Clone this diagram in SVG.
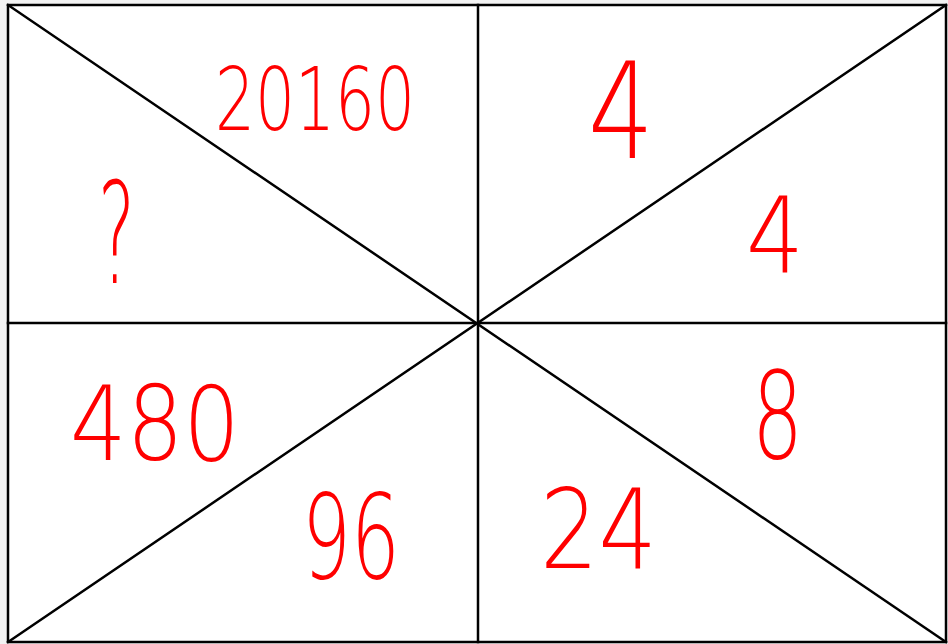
<svg xmlns="http://www.w3.org/2000/svg" width="948" height="644" viewBox="0 0 948 644">
<style>
.ln{stroke:#000;stroke-width:2.5;fill:none;stroke-linecap:square}
.num{font-family:"DejaVu Sans","Liberation Sans",Arial,sans-serif;fill:#ff0000;font-weight:200}
</style>
<rect x="0" y="0" width="948" height="644" fill="#f2f2f2"/>
<rect x="8" y="5" width="938" height="637" fill="#ffffff"/>
<g id="connectors">
<rect class="ln" x="8" y="5" width="938" height="637"/>
<line class="ln" x1="478" y1="5" x2="478" y2="642"/>
<line class="ln" x1="8" y1="323" x2="946" y2="323"/>
<line class="ln" x1="8" y1="5" x2="946" y2="642"/>
<line class="ln" x1="946" y1="5" x2="8" y2="642"/>
</g>
<g id="n20160"><text class="num" x="215" y="130" font-size="88" textLength="200" lengthAdjust="spacingAndGlyphs">20160</text></g>
<g id="nq"><text class="num" x="98" y="283" font-size="140" textLength="37" lengthAdjust="spacingAndGlyphs">?</text></g>
<g id="n4a"><text class="num" x="588" y="158" font-size="134" textLength="66" lengthAdjust="spacingAndGlyphs">4</text></g>
<g id="n4b"><text class="num" x="746" y="272" font-size="106" textLength="58" lengthAdjust="spacingAndGlyphs">4</text></g>
<g id="n480"><text class="num" x="70" y="460" font-size="104" textLength="170" lengthAdjust="spacingAndGlyphs">480</text></g>
<g id="n96"><text class="num" x="302" y="578" font-size="118" textLength="98" lengthAdjust="spacingAndGlyphs">96</text></g>
<g id="n24"><text class="num" x="540" y="568" font-size="110" textLength="117" lengthAdjust="spacingAndGlyphs">24</text></g>
<g id="n8"><text class="num" x="752" y="458" font-size="122" textLength="51" lengthAdjust="spacingAndGlyphs">8</text></g>
</svg>
